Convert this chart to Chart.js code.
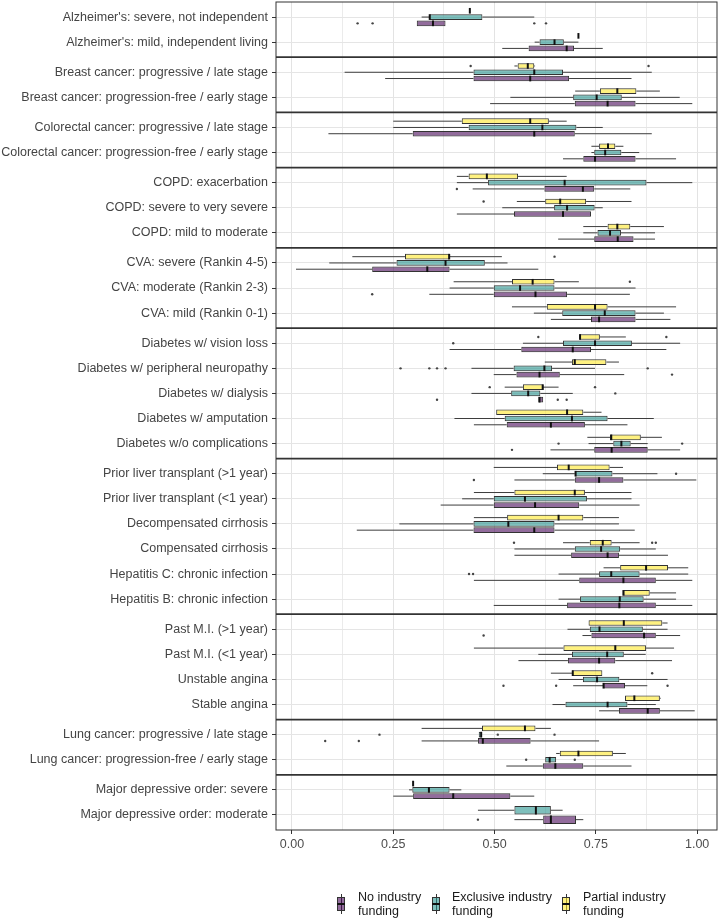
<!DOCTYPE html>
<html>
<head>
<meta charset="utf-8">
<script src="https://cdn.jsdelivr.net/npm/chart.js@4/dist/chart.umd.min.js"></script>
<style>
  html, body { margin: 0; padding: 0; background: #fff; }
  #wrap { position: relative; width: 723px; height: 921px; }
  #c { position: absolute; left: 0; top: 0; }
  .lg { position: absolute; font-family: "Liberation Sans", Arial, sans-serif; font-size: 12.5px; line-height: 14px; color: #1a1a1a; white-space: nowrap; }
  .key { position: absolute; width: 8px; height: 20px; }
  .key .wh { position: absolute; left: 3.5px; top: 0; width: 1px; height: 20px; background: #333; }
  .key .bx { position: absolute; left: 0; top: 3px; width: 6px; height: 12px; border: 1px solid #333; }
  .key .md { position: absolute; left: 0; top: 9px; width: 8px; height: 1.5px; background: #111; }
</style>
</head>
<body>
<div id="wrap">
  <canvas id="c" width="723" height="921"></canvas>
</div>
<script>
// ---------- data ----------
const categories = [
  "Alzheimer's: severe, not independent",
  "Alzheimer's: mild, independent living",
  "Breast cancer: progressive / late stage",
  "Breast cancer: progression-free / early stage",
  "Colorectal cancer: progressive / late stage",
  "Colorectal cancer: progression-free / early stage",
  "COPD: exacerbation",
  "COPD: severe to very severe",
  "COPD: mild to moderate",
  "CVA: severe (Rankin 4-5)",
  "CVA: moderate (Rankin 2-3)",
  "CVA: mild (Rankin 0-1)",
  "Diabetes w/ vision loss",
  "Diabetes w/ peripheral neuropathy",
  "Diabetes w/ dialysis",
  "Diabetes w/ amputation",
  "Diabetes w/o complications",
  "Prior liver transplant (>1 year)",
  "Prior liver transplant (<1 year)",
  "Decompensated cirrhosis",
  "Compensated cirrhosis",
  "Hepatitis C: chronic infection",
  "Hepatitis B: chronic infection",
  "Past M.I. (>1 year)",
  "Past M.I. (<1 year)",
  "Unstable angina",
  "Stable angina",
  "Lung cancer: progressive / late stage",
  "Lung cancer: progression-free / early stage",
  "Major depressive order: severe",
  "Major depressive order: moderate"
];
// number of rows in each condition panel (top to bottom)
const groupSizes = [2, 2, 2, 3, 3, 5, 6, 4, 2, 2];

const seriesNames = ["No industry funding", "Exclusive industry funding", "Partial industry funding"];

// [min whisker, Q1, median, Q3, max whisker] per row
const noFundingStats = [
  [0.308, 0.308, 0.348, 0.379, 0.379],
  [0.519, 0.584, 0.678, 0.696, 0.767],
  [0.230, 0.448, 0.588, 0.684, 0.838],
  [0.489, 0.698, 0.779, 0.848, 0.988],
  [0.090, 0.298, 0.598, 0.698, 0.888],
  [0.669, 0.719, 0.748, 0.848, 0.948],
  [0.446, 0.623, 0.718, 0.746, 0.835],
  [0.407, 0.548, 0.669, 0.738, 0.738],
  [0.657, 0.746, 0.804, 0.843, 0.896],
  [0.010, 0.198, 0.334, 0.389, 0.608],
  [0.339, 0.498, 0.601, 0.679, 0.834],
  [0.639, 0.738, 0.758, 0.848, 0.934],
  [0.389, 0.566, 0.693, 0.738, 0.924],
  [0.498, 0.554, 0.611, 0.661, 0.820],
  [0.608, 0.608, 0.611, 0.620, 0.620],
  [0.449, 0.530, 0.639, 0.723, 0.828],
  [0.638, 0.746, 0.789, 0.878, 0.958],
  [0.549, 0.698, 0.758, 0.818, 0.998],
  [0.367, 0.498, 0.600, 0.709, 0.858],
  [0.160, 0.448, 0.598, 0.648, 0.846],
  [0.549, 0.689, 0.779, 0.807, 0.928],
  [0.449, 0.709, 0.818, 0.898, 0.988],
  [0.498, 0.679, 0.808, 0.898, 0.988],
  [0.717, 0.739, 0.869, 0.898, 0.958],
  [0.559, 0.681, 0.758, 0.798, 0.938],
  [0.694, 0.769, 0.769, 0.822, 0.877],
  [0.758, 0.807, 0.878, 0.908, 0.994],
  [0.320, 0.459, 0.471, 0.589, 0.758],
  [0.529, 0.619, 0.650, 0.719, 0.838],
  [0.250, 0.299, 0.398, 0.539, 0.598],
  [0.549, 0.620, 0.639, 0.701, 0.719]
];
const noFundingOutliers = [
  [0.162, 0.199, 0.598, 0.627], [], [], [], [], [], [0.407], [], [], [], [0.198], [],
  [], [0.938], [0.358, 0.656, 0.678], [], [0.543], [0.449], [], [], [], [], [],
  [0.473], [], [0.522, 0.652, 0.927], [], [0.082, 0.165], [], [], [0.459]
];

const exclusiveStats = [
  [0.320, 0.339, 0.340, 0.470, 0.598],
  [0.599, 0.611, 0.648, 0.671, 0.707],
  [0.130, 0.448, 0.598, 0.669, 0.888],
  [0.539, 0.694, 0.752, 0.814, 0.957],
  [0.250, 0.436, 0.618, 0.702, 0.767],
  [0.739, 0.746, 0.773, 0.813, 0.857],
  [0.407, 0.484, 0.673, 0.875, 0.988],
  [0.519, 0.647, 0.679, 0.747, 0.767],
  [0.719, 0.754, 0.785, 0.812, 0.896],
  [0.092, 0.258, 0.379, 0.476, 0.532],
  [0.389, 0.498, 0.563, 0.648, 0.848],
  [0.597, 0.667, 0.772, 0.848, 0.918],
  [0.570, 0.669, 0.748, 0.839, 0.958],
  [0.443, 0.547, 0.623, 0.642, 0.748],
  [0.443, 0.541, 0.583, 0.613, 0.693],
  [0.401, 0.525, 0.691, 0.779, 0.893],
  [0.732, 0.793, 0.813, 0.836, 0.878],
  [0.619, 0.698, 0.700, 0.791, 0.902],
  [0.420, 0.498, 0.575, 0.728, 0.838],
  [0.265, 0.448, 0.534, 0.648, 0.807],
  [0.549, 0.698, 0.763, 0.810, 0.898],
  [0.658, 0.758, 0.788, 0.858, 0.978],
  [0.658, 0.711, 0.809, 0.868, 0.948],
  [0.680, 0.735, 0.759, 0.866, 0.927],
  [0.608, 0.691, 0.778, 0.819, 0.873],
  [0.658, 0.718, 0.753, 0.808, 0.927],
  [0.643, 0.675, 0.779, 0.828, 0.898],
  [0.461, 0.461, 0.467, 0.469, 0.469],
  [0.625, 0.625, 0.636, 0.652, 0.652],
  [0.289, 0.297, 0.338, 0.389, 0.418],
  [0.459, 0.549, 0.602, 0.639, 0.668]
];
const exclusiveOutliers = [
  [], [], [], [], [], [], [], [], [], [], [], [],
  [0.398], [0.268, 0.339, 0.358, 0.379, 0.878], [0.798], [], [0.658, 0.963], [0.948], [], [], [], [0.437, 0.447], [],
  [], [], [], [], [0.216, 0.508, 0.648], [0.578, 0.698], [], []
];

const partialStats = [
  [0.439, 0.439, 0.439, 0.439, 0.439],
  [0.707, 0.707, 0.707, 0.707, 0.707],
  [0.549, 0.557, 0.582, 0.598, 0.600],
  [0.699, 0.760, 0.803, 0.850, 0.908],
  [0.250, 0.419, 0.588, 0.634, 0.678],
  [0.739, 0.758, 0.780, 0.798, 0.818],
  [0.407, 0.436, 0.481, 0.558, 0.678],
  [0.555, 0.625, 0.662, 0.726, 0.838],
  [0.719, 0.779, 0.803, 0.835, 0.918],
  [0.149, 0.279, 0.388, 0.389, 0.518],
  [0.399, 0.543, 0.594, 0.648, 0.708],
  [0.543, 0.629, 0.748, 0.779, 0.948],
  [0.710, 0.710, 0.711, 0.760, 0.824],
  [0.624, 0.691, 0.698, 0.776, 0.807],
  [0.525, 0.570, 0.619, 0.619, 0.658],
  [0.504, 0.504, 0.679, 0.719, 0.764],
  [0.729, 0.785, 0.788, 0.861, 0.913],
  [0.498, 0.654, 0.683, 0.784, 0.817],
  [0.449, 0.549, 0.698, 0.723, 0.838],
  [0.449, 0.531, 0.658, 0.719, 0.807],
  [0.669, 0.735, 0.767, 0.789, 0.858],
  [0.769, 0.810, 0.874, 0.928, 0.978],
  [0.818, 0.818, 0.818, 0.883, 0.948],
  [0.732, 0.732, 0.819, 0.914, 0.927],
  [0.449, 0.670, 0.798, 0.874, 0.943],
  [0.639, 0.691, 0.693, 0.766, 0.766],
  [0.822, 0.822, 0.845, 0.908, 0.910],
  [0.320, 0.469, 0.575, 0.601, 0.639],
  [0.652, 0.661, 0.707, 0.792, 0.824],
  [0.299, 0.299, 0.299, 0.299, 0.299],
  null
];
const partialOutliers = [
  [], [], [0.441, 0.880], [], [], [], [], [0.473], [], [0.648], [0.834], [],
  [0.608, 0.924], [], [0.488, 0.748], [], [], [], [], [], [0.548, 0.889, 0.898], [], [],
  [], [], [0.889], [], [], [], [], []
];

const majorTicks = [0, 0.25, 0.5, 0.75, 1];
const minorTicks = [0.125, 0.375, 0.625, 0.875];

// ---------- derived layout (panel rows) ----------
const rowPos = [];
const panelEdges = [];
let cursor = 0;
groupSizes.forEach(n => {
  for (let k = 0; k < n; k++) rowPos.push(cursor + 0.6 + k);
  cursor += n - 1 + 1.2;
  panelEdges.push(cursor);
});
const totalUnits = cursor;

const FONT = "'Liberation Sans', Arial, Helvetica, sans-serif";
const fills = {
  none: 'rgba(68,1,84,0.58)',
  excl: 'rgba(33,144,140,0.58)',
  part: 'rgba(253,231,37,0.58)'
};

// order in group: top = partial, middle = exclusive, bottom = none
const seriesDefs = [
  { name: seriesNames[2], stats: partialStats, out: partialOutliers, fill: fills.part },
  { name: seriesNames[1], stats: exclusiveStats, out: exclusiveOutliers, fill: fills.excl },
  { name: seriesNames[0], stats: noFundingStats, out: noFundingOutliers, fill: fills.none }
];

const datasets = seriesDefs.map(s => ({
  label: s.name,
  data: rowPos.map((p, i) => ({ x: s.stats[i] ? [s.stats[i][1], s.stats[i][3]] : null, y: p })),
  backgroundColor: s.fill,
  borderColor: '#333333',
  borderWidth: 1,
  borderSkipped: false,
  categoryPercentage: 0.75,
  barPercentage: 0.9,
  skipNull: true
}));

const gridTicks = majorTicks.concat(minorTicks).sort((a, b) => a - b);

const boxPlugin = {
  id: 'boxExtras',
  beforeDatasetsDraw(chart) {
    const ctx = chart.ctx, xs = chart.scales.x;
    ctx.save();
    ctx.strokeStyle = '#3d3d3d';
    ctx.lineWidth = 1;
    seriesDefs.forEach((s, d) => {
      const meta = chart.getDatasetMeta(d);
      meta.data.forEach((el, i) => {
        const st = s.stats[i];
        if (!st) return;
        const y = el.y;
        ctx.beginPath();
        if (st[0] < st[1]) { ctx.moveTo(xs.getPixelForValue(st[0]), y); ctx.lineTo(xs.getPixelForValue(st[1]), y); }
        if (st[4] > st[3]) { ctx.moveTo(xs.getPixelForValue(st[3]), y); ctx.lineTo(xs.getPixelForValue(st[4]), y); }
        ctx.stroke();
      });
    });
    ctx.restore();
  },
  afterDatasetsDraw(chart) {
    const ctx = chart.ctx, xs = chart.scales.x, ys = chart.scales.y, a = chart.chartArea;
    ctx.save();
    seriesDefs.forEach((s, d) => {
      const meta = chart.getDatasetMeta(d);
      meta.data.forEach((el, i) => {
        const st = s.stats[i];
        if (!st) return;
        const y = el.y, h = el.height;
        const mx = xs.getPixelForValue(st[2]);
        ctx.strokeStyle = '#111';
        ctx.lineWidth = 2;
        ctx.beginPath();
        ctx.moveTo(mx, y - h / 2);
        ctx.lineTo(mx, y + h / 2);
        ctx.stroke();
        ctx.fillStyle = '#444';
        (s.out[i] || []).forEach(v => {
          ctx.beginPath();
          ctx.arc(xs.getPixelForValue(v), y, 1.2, 0, Math.PI * 2);
          ctx.fill();
        });
      });
    });
    // panel separators
    ctx.strokeStyle = '#333';
    ctx.lineWidth = 1.7;
    panelEdges.slice(0, -1).forEach(v => {
      const py = ys.getPixelForValue(v);
      ctx.beginPath();
      ctx.moveTo(a.left, py);
      ctx.lineTo(a.right, py);
      ctx.stroke();
    });
    ctx.lineWidth = 1;
    ctx.strokeRect(a.left, a.top, a.right - a.left, a.bottom - a.top);
    ctx.restore();
  }
};

new Chart(document.getElementById('c'), {
  type: 'bar',
  data: { datasets },
  plugins: [boxPlugin],
  options: {
    indexAxis: 'y',
    responsive: false,
    animation: false,
    devicePixelRatio: 1,
    layout: { padding: { left: 0, right: 6, top: 2, bottom: 71 } },
    plugins: { legend: { display: false }, tooltip: { enabled: false } },
    scales: {
      x: {
        type: 'linear',
        position: 'bottom',
        min: -0.0394,
        max: 1.049,
        offset: false,
        afterBuildTicks: s => { s.ticks = gridTicks.map(v => ({ value: v })); },
        afterFit: s => { s.height = 20; s.paddingLeft = 0; s.paddingRight = 0; },
        ticks: {
          autoSkip: false,
          maxRotation: 0,
          padding: 3,
          color: '#4d4d4d',
          font: { family: FONT, size: 12.5 },
          callback: v => majorTicks.includes(v) ? v.toFixed(2) : ''
        },
        grid: {
          offset: false,
          color: c => majorTicks.includes(c.tick.value) ? '#e3e3e3' : '#ebebeb',
          lineWidth: 1,
          tickLength: 4,
          tickColor: c => majorTicks.includes(c.tick.value) ? '#333' : 'rgba(0,0,0,0)',
          tickWidth: 1
        },
        border: { display: false }
      },
      y: {
        type: 'linear',
        reverse: true,
        min: 0,
        max: totalUnits,
        offset: false,
        afterBuildTicks: s => { s.ticks = rowPos.map(v => ({ value: v })); },
        afterFit: s => { s.width = 276; s.paddingTop = 0; s.paddingBottom = 0; },
        ticks: {
          autoSkip: false,
          padding: 4,
          color: '#444444',
          font: { family: FONT, size: 12.5 },
          callback: (v, i) => categories[i]
        },
        grid: { offset: false, color: '#e5e5e5', lineWidth: 1, tickLength: 4, tickColor: '#333', tickWidth: 1 },
        border: { display: false }
      }
    }
  }
});

// ---------- legend (HTML, bottom) ----------
const legendItems = [
  { text: ["No industry", "funding"], fill: fills.none, keyX: 337, textX: 358 },
  { text: ["Exclusive industry", "funding"], fill: fills.excl, keyX: 432, textX: 452 },
  { text: ["Partial industry", "funding"], fill: fills.part, keyX: 562, textX: 583 }
];
const wrap = document.getElementById('wrap');
legendItems.forEach(it => {
  const key = document.createElement('div');
  key.className = 'key';
  key.style.left = it.keyX + 'px';
  key.style.top = '894px';
  key.innerHTML = '<div class="wh"></div><div class="bx" style="background:' + it.fill + '"></div><div class="md"></div>';
  wrap.appendChild(key);
  const t = document.createElement('div');
  t.className = 'lg';
  t.style.left = it.textX + 'px';
  t.style.top = '890px';
  t.innerHTML = it.text.join('<br>');
  wrap.appendChild(t);
});
</script>
</body>
</html>
